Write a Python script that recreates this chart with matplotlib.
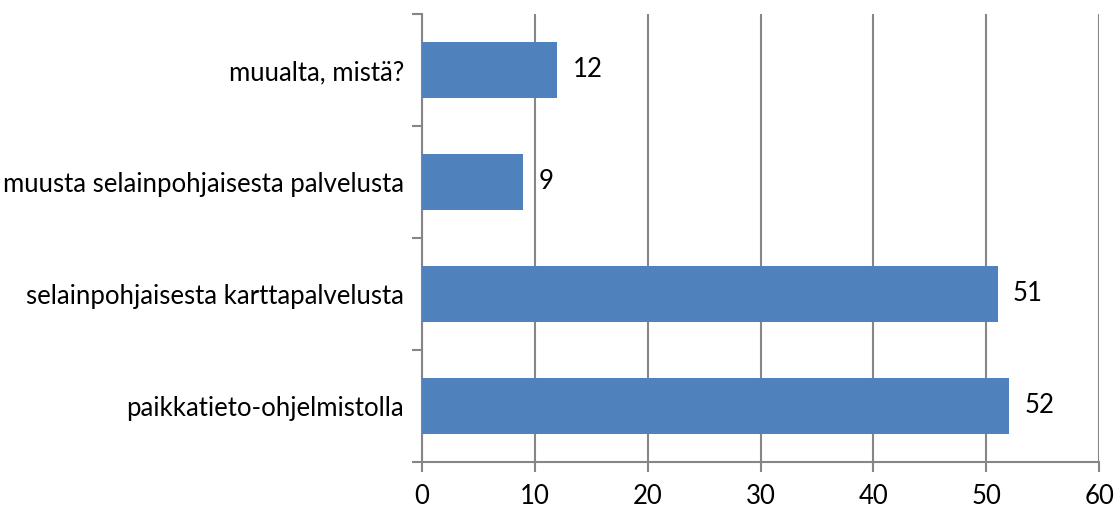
import matplotlib
matplotlib.use("Agg")
import matplotlib.pyplot as plt

categories = [
    "paikkatieto-ohjelmistolla",
    "selainpohjaisesta karttapalvelusta",
    "muusta selainpohjaisesta palvelusta",
    "muualta, mistä?",
]
values = [52, 51, 9, 12]
x_ticks = [0, 10, 20, 30, 40, 50, 60]

plt.rcParams["font.family"] = ["Lato", "DejaVu Sans"]
FS = 18.5

fig = plt.figure(figsize=(11.16, 5.07), dpi=100)
ax = fig.add_axes([0.378, 0.0888, 0.607, 0.8836])

bar_color = "#4F81BD"
grid_color = "#868686"

pos = list(range(len(categories)))
ax.barh(pos, values, height=0.5, color=bar_color, zorder=3)

for p, v in zip(pos, values):
    ax.text(v + 1.35, p, f"{v}", va="center", ha="left", fontsize=FS, color="black")

ax.set_xlim(0, 60)
ax.set_ylim(-0.5, len(categories) - 0.5)
ax.set_xticks(x_ticks)
ax.set_xticklabels([str(t) for t in x_ticks], fontsize=FS)

# Category labels sit between boundary ticks
ax.set_yticks([i - 0.5 for i in range(len(categories) + 1)])
ax.set_yticklabels([])
ax.set_yticks(pos, minor=True)
ax.set_yticklabels(categories, minor=True, fontsize=FS)
ax.tick_params(axis="y", which="minor", length=0, pad=13)
ax.tick_params(axis="y", which="major", length=7, width=1.5, color=grid_color)
ax.tick_params(axis="x", length=7, width=1.5, color=grid_color, pad=9)

ax.grid(axis="x", color=grid_color, linewidth=1.5, zorder=0)
for s in ["top", "right"]:
    ax.spines[s].set_visible(False)
for s in ["left", "bottom"]:
    ax.spines[s].set_color(grid_color)
    ax.spines[s].set_linewidth(1.5)

fig.savefig("out.png", dpi=100)
